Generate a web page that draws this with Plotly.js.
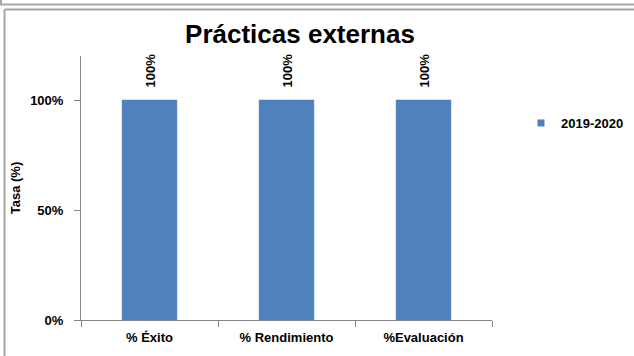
<!DOCTYPE html>
<html>
<head>
<meta charset="utf-8">
<script src="https://cdn.plot.ly/plotly-3.0.1.min.js"></script>
<style>body{margin:0;background:#fff}#chart{width:634px;height:356px}</style>
</head>
<body>
<div id="chart"></div>
<script>
const categories = ["% Éxito", "% Rendimiento", "%Evaluación"];
const seriesName = "2019-2020";
const values = [1.0, 1.0, 1.0];
const labels = ["100%", "100%", "100%"];
const yTicks = [0, 0.5, 1.0];
const yTickText = ["0%", "50%", "100%"];

const L = 81, R = 492, T = 56, B = 320;
const W = 634, H = 356;
const px = x => (x - L) / (R - L);
const py = y => (B - y) / (B - T);
const fnt = "'Liberation Sans Narrow', 'Arial Narrow', 'Liberation Sans', Arial, sans-serif";
const border = '#a6a6a6';
const barColor = '#4f81bd';

const traces = [{
  type: 'bar',
  x: categories,
  y: values,
  name: seriesName,
  showlegend: false,
  marker: {color: barColor, line: {color: '#4a78b0', width: 0.5}},
  width: 0.4
}, {
  type: 'scatter',
  mode: 'markers',
  x: [null], y: [null],
  name: seriesName,
  showlegend: true,
  marker: {symbol: 'square', size: 7, color: barColor}
}];

const annotations = categories.map((c, i) => ({
  x: c, y: values[i], xref: 'x', yref: 'y',
  text: labels[i], textangle: -90, showarrow: false,
  xanchor: 'center', yanchor: 'bottom', yshift: 10,
  font: {family: fnt, size: 13, color: '#000', weight: 'bold'}
}));

const layout = {
  width: W, height: H,
  margin: {l: L, r: W - R, t: T, b: H - B, pad: 0, autoexpand: false},
  paper_bgcolor: '#fff', plot_bgcolor: '#fff',
  font: {family: fnt, color: '#000'},
  title: {text: 'Prácticas externas', font: {family: fnt, size: 26, weight: 'bold', color: '#000'},
          x: 300 / W, xref: 'container', xanchor: 'center', y: 1 - 34 / H, yanchor: 'middle'},
  showlegend: true,
  legend: {x: px(521), y: py(123), xanchor: 'left', yanchor: 'middle',
           font: {family: fnt, size: 13, weight: 'bold'}, itemwidth: 30, bgcolor: 'rgba(0,0,0,0)'},
  annotations: annotations,
  xaxis: {
    showline: true, linecolor: '#868686', linewidth: 1,
    ticks: 'outside', tickson: 'boundaries', ticklen: 6, tickcolor: '#868686',
    ticklabelstandoff: 5,
    tickfont: {family: fnt, size: 13, weight: 'bold'},
    showgrid: false, zeroline: false, fixedrange: true
  },
  yaxis: {
    range: [0, 1.2],
    tickvals: yTicks, ticktext: yTickText,
    showline: true, linecolor: '#868686', linewidth: 1,
    ticks: 'outside', ticklen: 6, tickcolor: '#868686',
    ticklabelstandoff: 8,
    tickfont: {family: fnt, size: 13, weight: 'bold'},
    showgrid: false, zeroline: false,
    title: {text: 'Tasa (%)', font: {family: fnt, size: 13, weight: 'bold'}, standoff: 6}
  },
  shapes: [
    {type: 'line', xref: 'paper', yref: 'paper', x0: px(2), x1: px(640), y0: py(4.5), y1: py(4.5), line: {color: border, width: 2}},
    {type: 'line', xref: 'paper', yref: 'paper', x0: px(1), x1: px(1), y0: py(-2), y1: py(5.5), line: {color: border, width: 2}},
    {type: 'line', xref: 'paper', yref: 'paper', x0: px(4.5), x1: px(640), y0: py(9.5), y1: py(9.5), line: {color: border, width: 2}},
    {type: 'line', xref: 'paper', yref: 'paper', x0: px(4.5), x1: px(4.5), y0: py(9.5), y1: py(360), line: {color: border, width: 2}}
  ]
};

Plotly.newPlot('chart', traces, layout, {displayModeBar: false, staticPlot: true});
</script>
</body>
</html>
